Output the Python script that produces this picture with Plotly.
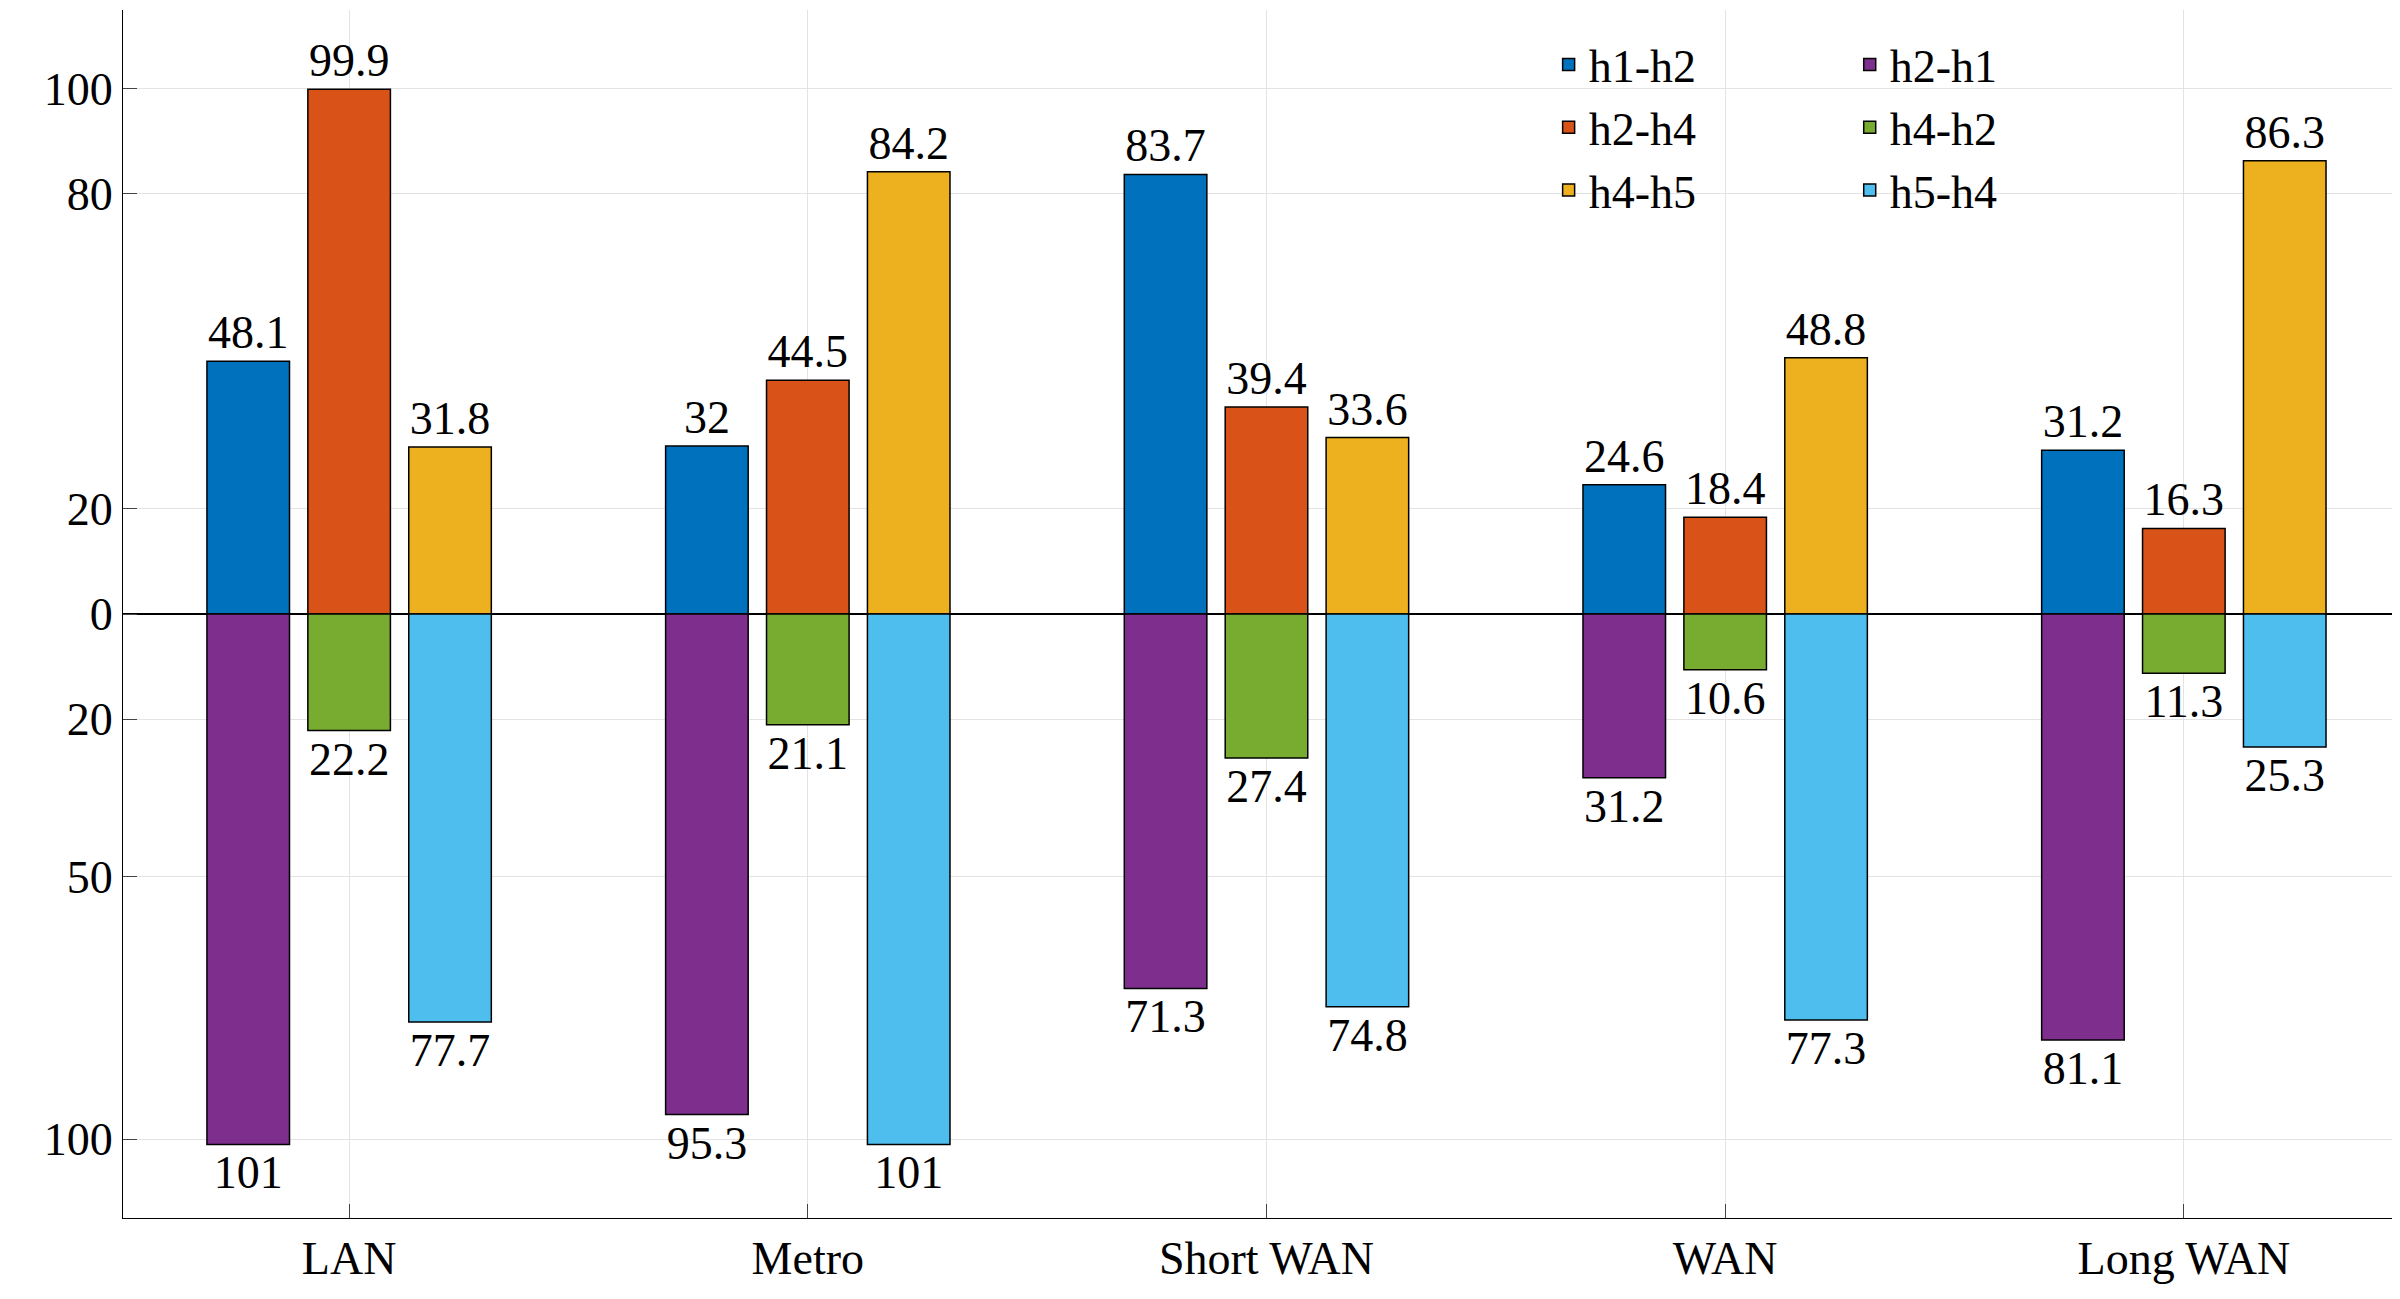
import plotly.graph_objects as go

categories = ["LAN", "Metro", "Short WAN", "WAN", "Long WAN"]
h1_h2 = [48.1, 32, 83.7, 24.6, 31.2]
h2_h4 = [99.9, 44.5, 39.4, 18.4, 16.3]
h4_h5 = [31.8, 84.2, 33.6, 48.8, 86.3]
h2_h1 = [101, 95.3, 71.3, 31.2, 81.1]
h4_h2 = [22.2, 21.1, 27.4, 10.6, 11.3]
h5_h4 = [77.7, 101, 74.8, 77.3, 25.3]

tick_vals = [-100, -50, -20, 0, 20, 80, 100]
tick_text = ["100", "50", "20", "0", "20", "80", "100"]

font = "Liberation Serif, Times New Roman, serif"
pos = list(range(1, len(categories) + 1))
w = 0.18

series = [
    ("h1-h2", h1_h2, -0.22, 1, "#0072BD", "legend"),
    ("h2-h4", h2_h4, 0.0, 1, "#D95319", "legend"),
    ("h4-h5", h4_h5, 0.22, 1, "#EDB120", "legend"),
    ("h2-h1", h2_h1, -0.22, -1, "#7E2F8E", "legend2"),
    ("h4-h2", h4_h2, 0.0, -1, "#77AC30", "legend2"),
    ("h5-h4", h5_h4, 0.22, -1, "#4DBEEE", "legend2"),
]

fig = go.Figure()
for name, vals, off, sign, color, leg in series:
    fig.add_trace(go.Bar(
        x=[p + off for p in pos], y=[sign * v for v in vals], width=w,
        name=name, marker=dict(color=color, line=dict(color="black", width=1.5)),
        text=[str(v) for v in vals], textposition="outside", cliponaxis=False,
        textfont=dict(family=font, size=46, color="black"), legend=leg,
    ))

legstyle = dict(font=dict(family=font, size=46, color="black"), bgcolor="rgba(255,255,255,0)",
                borderwidth=0, tracegroupgap=0)
fig.update_layout(
    width=2400, height=1299, barmode="overlay", plot_bgcolor="white",
    paper_bgcolor="white", margin=dict(l=115, r=4, t=2, b=89),
    font=dict(family=font, size=46, color="black"),
    legend=dict(x=0.625, y=0.985, xanchor="left", yanchor="top", **legstyle),
    legend2=dict(x=0.757, y=0.985, xanchor="left", yanchor="top", **legstyle),
)
fig.update_xaxes(range=[0.507, 5.48], tickvals=pos, ticktext=categories,
                 showgrid=True, gridcolor="#e3e3e3", showline=True, linecolor="black",
                 ticks="inside", ticklen=14, tickfont=dict(family=font, size=46))
fig.update_yaxes(range=[-115, 115], tickvals=tick_vals, ticktext=tick_text,
                 showgrid=True, gridcolor="#e3e3e3", showline=True, linecolor="black",
                 zeroline=True, zerolinecolor="black", zerolinewidth=1.5,
                 ticks="inside", ticklen=14, tickfont=dict(family=font, size=46))
fig.write_html("out.html")
